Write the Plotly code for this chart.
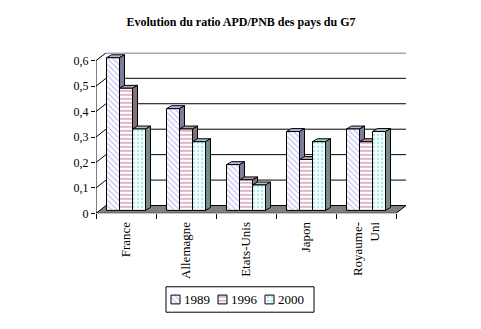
import plotly.graph_objects as go

# ---------------- data ----------------
categories = ["France", "Allemagne", "Etats-Unis", "Japon", "Royaume-<br>Uni"]
years = ["1989", "1996", "2000"]
v1989 = [0.60, 0.40, 0.18, 0.31, 0.32]
v1996 = [0.48, 0.32, 0.12, 0.20, 0.27]
v2000 = [0.32, 0.27, 0.10, 0.27, 0.31]
ytick_vals = [0, 0.1, 0.2, 0.3, 0.4, 0.5, 0.6]
ytick_text = ["0", "0,1", "0,2", "0,3", "0,4", "0,5", "0,6"]
title_text = "Evolution du ratio APD/PNB des pays du G7"

series = [v1989, v1996, v2000]

# ---------------- styles ----------------
W, H = 481, 329
PL, PR, PT, PB = 96, 406, 54, 218     # plot area in pixels
FRONT_TOP = 62                         # pixel of 0.6 on front plane
YMAX = 0.6
uy = YMAX / (PB - FRONT_TOP)           # data units per pixel (y)
ux = 1 / 60.0                          # data units per pixel (x)
WALL_DX, WALL_DY = 10, 8
BAR_DX, BAR_DY = 5, 3
BASE_PX = 3
ncat = len(categories)
BARGAP = 0.35
FONT = "Liberation Serif"

styles = [
    dict(shape="\\", fg="#8C8CF0", bg="#FFFFFF", size=4, sol=0.35, top="#B8B8D8", side="#7C7C9C"),
    dict(shape="-", fg="#993366", bg="#FFFFFF", size=4, sol=0.35, top="#B49CA8", side="#857079"),
    dict(shape=".", fg="#22BBBB", bg="#F4FFFF", size=4, sol=0.2, top="#A8C8C8", side="#748C8C"),
]

# legend box (pixels) and swatch geometry
LEG_X0, LEG_X1, LEG_Y0, LEG_Y1 = 166, 314, 293, 319
SW = 9
SW_CX = [175.5, 222.5, 269.5]          # swatch centres (px)
TXT_X = [182, 229, 276]                 # text left (px)

xr = [-0.5, ncat - 0.5 + WALL_DX * ux]
yr = [0, YMAX + WALL_DY * uy]
dxw, dyw = WALL_DX * ux, WALL_DY * uy
dxb, dyb = BAR_DX * ux, BAR_DY * uy
base = BASE_PX * uy

fig = go.Figure()
xs = list(range(ncat))
for k, (yr_name, vals) in enumerate(zip(years, series)):
    st = styles[k]
    pat = dict(shape=st["shape"], fgcolor=st["fg"], bgcolor=st["bg"],
               size=st["size"], solidity=st["sol"], fillmode="overlay")
    fig.add_trace(go.Bar(
        x=xs, y=vals, base=[base] * ncat, name=yr_name, showlegend=False,
        marker=dict(color=st["bg"], line=dict(color="black", width=1), pattern=pat),
        hoverinfo="skip", xaxis="x", yaxis="y",
    ))
    # legend swatch
    fig.add_trace(go.Bar(
        x=[SW_CX[k] - LEG_X0], y=[SW], base=[(LEG_Y1 - LEG_Y0 - SW) / 2],
        width=[SW], offset=-SW / 2, showlegend=False, hoverinfo="skip",
        marker=dict(color=st["bg"], line=dict(color="black", width=1), pattern=pat),
        xaxis="x2", yaxis="y2",
    ))

shapes = []
line_k = dict(color="black", width=1)
# floor
shapes.append(dict(type="path", xref="x", yref="y", layer="below",
                   path=f"M {-0.5},{0} L {ncat-0.5},{0} L {ncat-0.5+dxw},{dyw} L {-0.5+dxw},{dyw} Z",
                   fillcolor="#808080", line=line_k))
# walls / gridlines
for v in ytick_vals:
    if v > 0:
        shapes.append(dict(type="line", xref="x", yref="y", layer="below",
                           x0=-0.5, y0=v, x1=-0.5 + dxw, y1=v + dyw, line=line_k))
        shapes.append(dict(type="line", xref="x", yref="y", layer="below",
                           x0=-0.5 + dxw, y0=v + dyw, x1=xr[1], y1=v + dyw, line=line_k))
shapes.append(dict(type="line", xref="x", yref="y", layer="below",
                   x0=-0.5, y0=0, x1=-0.5, y1=YMAX, line=line_k))

# 3D faces of bars
w = (1 - BARGAP) / len(series)
for c in range(ncat):
    for k, vals in enumerate(series):
        st = styles[k]
        xl = c + (k - (len(series) - 1) / 2) * w - w / 2
        xrr = xl + w
        top = vals[c] + base
        shapes.append(dict(type="path", xref="x", yref="y", layer="below",
                           path=f"M {xl},{top} L {xl+dxb},{top+dyb} L {xrr+dxb},{top+dyb} L {xrr},{top} Z",
                           fillcolor=st["top"], line=line_k))
        shapes.append(dict(type="path", xref="x", yref="y", layer="below",
                           path=f"M {xrr},{base} L {xrr},{top} L {xrr+dxb},{top+dyb} L {xrr+dxb},{base+dyb} Z",
                           fillcolor=st["side"], line=line_k))

# legend box
shapes.append(dict(type="rect", xref="paper", yref="paper", layer="below",
                   x0=LEG_X0 / W, x1=LEG_X1 / W, y0=1 - LEG_Y1 / H, y1=1 - LEG_Y0 / H,
                   line=line_k, fillcolor="white"))

annotations = []
for k, yr_name in enumerate(years):
    annotations.append(dict(text=yr_name, xref="x2", yref="y2",
                            x=TXT_X[k] - LEG_X0, y=(LEG_Y1 - LEG_Y0) / 2,
                            xanchor="left", yanchor="middle", showarrow=False,
                            font=dict(family=FONT, size=13, color="black")))

fig.update_layout(
    width=W, height=H, autosize=False,
    margin=dict(l=0, r=0, t=0, b=0, pad=0),
    paper_bgcolor="white", plot_bgcolor="rgba(0,0,0,0)",
    barmode="group", bargap=BARGAP, bargroupgap=0,
    shapes=shapes, annotations=annotations, showlegend=False,
    title=dict(text=f"<b>{title_text}</b>", x=241 / W, xanchor="center",
               y=1 - 22 / H, yanchor="middle", yref="container",
               font=dict(family=FONT, size=12, color="black")),
    xaxis=dict(domain=[PL / W, PR / W], type="linear", range=xr,
               tickvals=xs, ticktext=categories, tickangle=-90,
               showgrid=False, zeroline=False, showline=False, ticks="",
               ticklabelstandoff=5,
               minor=dict(tickvals=[b - 0.5 for b in range(ncat + 1)], ticks="outside",
                          ticklen=5, tickcolor="black", showgrid=False),
               tickfont=dict(family=FONT, size=13, color="black")),
    yaxis=dict(domain=[1 - PB / H, 1 - PT / H], range=yr,
               tickvals=ytick_vals, ticktext=ytick_text,
               showgrid=False, zeroline=False, showline=False,
               ticks="outside", ticklen=4, tickcolor="black",
               tickfont=dict(family=FONT, size=12, color="black")),
    xaxis2=dict(domain=[LEG_X0 / W, LEG_X1 / W], range=[0, LEG_X1 - LEG_X0],
                visible=False, fixedrange=True),
    yaxis2=dict(domain=[1 - LEG_Y1 / H, 1 - LEG_Y0 / H], range=[0, LEG_Y1 - LEG_Y0],
                visible=False, fixedrange=True),
)

fig.write_html("out.html")
